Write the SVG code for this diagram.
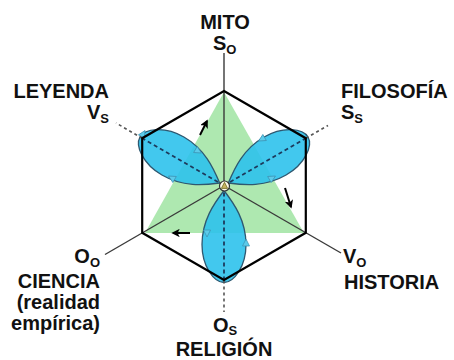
<svg xmlns="http://www.w3.org/2000/svg" width="454" height="360" viewBox="0 0 454 360">
<defs>
<style>
.lbl{font-family:"Liberation Sans",Arial,sans-serif;font-weight:bold;font-size:20px;fill:#111}
.sub{font-size:13px}
.axis{stroke:#3a3a3a;stroke-width:1.4;fill:none}
.dot{stroke:#555;stroke-width:1.6;stroke-dasharray:3 3;fill:none}
.dash{stroke:#1d3a5c;stroke-width:1.8;stroke-dasharray:4 3;fill:none}
.petal{fill:#2ec2ec;fill-opacity:0.9;stroke:#2f5870;stroke-width:1.3}
.ah{fill:#5ccbea;stroke:#3b8fb0;stroke-width:0.7}
.blk{stroke:#000;stroke-width:2;fill:none}
</style>
<path id="petal" d="M 5,0 C 18,-10 35,-22 59,-22 C 81,-22 97,-10 97,0 C 97,10 81,22 59,22 C 35,22 18,10 5,0 Z"/>
<path id="ahp" d="M4,0 L-3,-3.5 L-3,3.5 Z"/>
<marker id="mk" viewBox="0 0 10 10" refX="8" refY="5" markerWidth="4.2" markerHeight="4.2" orient="auto" markerUnits="strokeWidth">
<path d="M0,0 L10,5 L0,10 L2.5,5 Z" fill="#000"/>
</marker>
</defs>
<rect width="454" height="360" fill="#fff"/>

<g id="triangle">
<polygon points="224,92 145,233 304,233" fill="#aee8b0"/>
</g>

<g id="connectors">
<line class="axis" x1="224" y1="53" x2="224" y2="185.5"/>
<line class="axis" x1="224" y1="185.5" x2="105" y2="254.5"/>
<line class="axis" x1="224" y1="185.5" x2="341" y2="253"/>
</g>

<g id="petals">
<use href="#petal" class="petal" transform="translate(224,185.5) rotate(210)"/>
<use href="#petal" class="petal" transform="translate(224,185.5) rotate(-30)"/>
<use href="#petal" class="petal" transform="translate(224,185.5) rotate(90)"/>
</g>

<g id="petal-arrows">
<use href="#ahp" class="ah" transform="translate(198,151) rotate(30)"/>
<use href="#ahp" class="ah" transform="translate(172,178) rotate(210)"/>
<use href="#ahp" class="ah" transform="translate(143,134) rotate(-60)"/>
<use href="#ahp" class="ah" transform="translate(262,139) rotate(150)"/>
<use href="#ahp" class="ah" transform="translate(272,178) rotate(-30)"/>
<use href="#ahp" class="ah" transform="translate(207,233) rotate(90)"/>
<use href="#ahp" class="ah" transform="translate(246,243) rotate(-90)"/>
</g>

<g id="axes-dashed">
<line class="dash" x1="224" y1="185.5" x2="142.2" y2="138.25"/>
<line class="dash" x1="224" y1="185.5" x2="305.8" y2="138.25"/>
<line class="dash" x1="224" y1="185.5" x2="224" y2="280.5"/>
<line class="dot" x1="142.2" y1="138.25" x2="116" y2="123"/>
<line class="dot" x1="305.8" y1="138.25" x2="328" y2="125.5"/>
<line class="dot" x1="224" y1="280.5" x2="224" y2="312"/>
</g>

<g id="hexagon">
<polygon points="224,91 305.8,138.25 305.8,232.75 224,280 142.2,232.75 142.2,138.25" fill="none" stroke="#000" stroke-width="2.2" stroke-linejoin="miter"/>
</g>

<g id="flow-arrows">
<line class="blk" x1="200" y1="135" x2="207" y2="121" marker-end="url(#mk)"/>
<line class="blk" x1="285" y1="188" x2="291" y2="207" marker-end="url(#mk)"/>
<line class="blk" x1="190" y1="233" x2="173" y2="233" marker-end="url(#mk)"/>
</g>

<g id="center">
<circle cx="224.5" cy="186" r="5" fill="#fffbe8" stroke="#333" stroke-width="1.2"/>
<polygon points="224.5,182.3 227.6,188.4 221.4,188.4" fill="#c8b560" stroke="#6b6420" stroke-width="0.8"/>
</g>

<g id="node-mito">
<text class="lbl" x="225" y="29" text-anchor="middle">MITO</text>
<text class="lbl" x="213" y="50">S<tspan class="sub" dy="4">O</tspan></text>
</g>
<g id="node-leyenda">
<text class="lbl" x="109" y="98" text-anchor="end">LEYENDA</text>
<text class="lbl" x="109" y="119" text-anchor="end">V<tspan class="sub" dy="4">S</tspan></text>
</g>
<g id="node-filosofia">
<text class="lbl" x="341" y="98">FILOSOFÍA</text>
<text class="lbl" x="341" y="119">S<tspan class="sub" dy="4">S</tspan></text>
</g>
<g id="node-ciencia">
<text class="lbl" x="100" y="263" text-anchor="end">O<tspan class="sub" dy="4">O</tspan></text>
<text class="lbl" x="100" y="288" text-anchor="end">CIENCIA</text>
<text class="lbl" x="100" y="309" text-anchor="end">(realidad</text>
<text class="lbl" x="100" y="330" text-anchor="end">empírica)</text>
</g>
<g id="node-historia">
<text class="lbl" x="343" y="263">V<tspan class="sub" dy="4">O</tspan></text>
<text class="lbl" x="344" y="289">HISTORIA</text>
</g>
<g id="node-religion">
<text class="lbl" x="225" y="332" text-anchor="middle">O<tspan class="sub" dy="3">S</tspan></text>
<text class="lbl" x="224" y="356" text-anchor="middle">RELIGIÓN</text>
</g>
</svg>
